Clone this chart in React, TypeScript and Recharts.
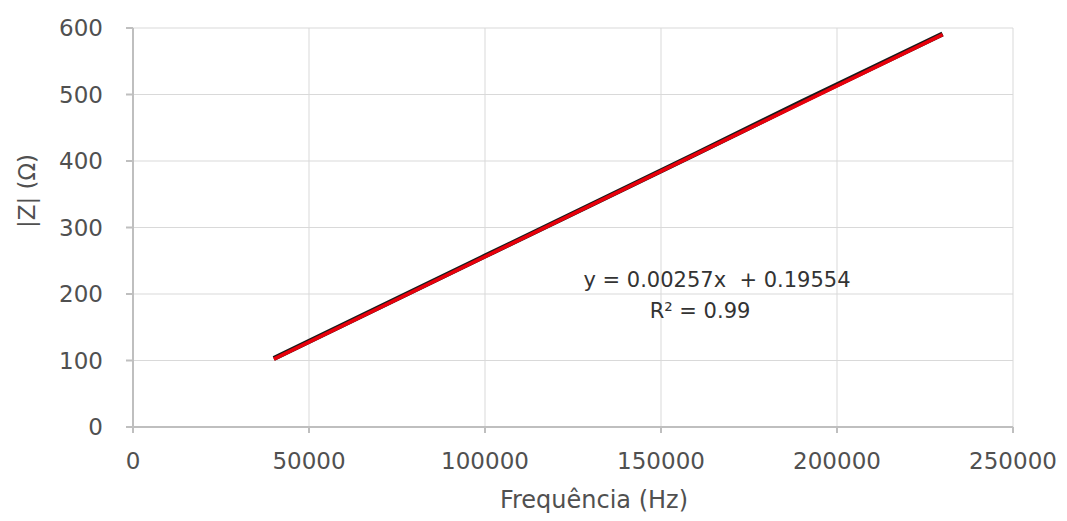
import { LineChart, Line, XAxis, YAxis, CartesianGrid } from "recharts"

const frequencies = [40000, 70000, 100000, 130000, 160000, 190000, 230000]
const impedance = [103, 180, 257, 334, 411, 489, 591]
const trendFrequencies = [40000, 230000]
const trendImpedance = [102, 590]
const xTicks = [0, 50000, 100000, 150000, 200000, 250000]
const yTicks = [0, 100, 200, 300, 400, 500, 600]

const measured = frequencies.map((f, i) => ({ f, z: impedance[i] }))
const trend = trendFrequencies.map((f, i) => ({ f, z: trendImpedance[i] }))

const axisColor = "#bfbfbf"
const textColor = "#505050"
const font = "'DejaVu Sans', sans-serif"

export default function App() {
  return (
    <div style={{ position: "absolute", left: 0, top: 0, width: 1067, height: 521, background: "#fff" }}>
      <LineChart width={1067} height={521} margin={{ top: 28, right: 54, bottom: 0, left: 0 }}>
        <CartesianGrid stroke="#d9d9d9" strokeWidth={1} />
        <XAxis
          type="number"
          dataKey="f"
          domain={[0, 250000]}
          ticks={xTicks}
          height={94}
          stroke={axisColor}
          strokeWidth={2}
          tickSize={6}
          tickMargin={20}
          tick={{ fill: textColor, fontSize: 23, fontFamily: font }}
          allowDuplicatedCategory={false}
        />
        <YAxis
          type="number"
          dataKey="z"
          domain={[0, 600]}
          ticks={yTicks}
          width={133}
          stroke={axisColor}
          strokeWidth={2}
          tickSize={7}
          tickMargin={23}
          tick={{ fill: textColor, fontSize: 23, fontFamily: font }}
        />
        <Line
          data={measured}
          dataKey="z"
          stroke="#1a1a1a"
          strokeWidth={5}
          dot={false}
          isAnimationActive={false}
        />
        <Line
          data={trend}
          dataKey="z"
          stroke="#e8000b"
          strokeWidth={3.5}
          dot={false}
          isAnimationActive={false}
        />
      </LineChart>
      <div
        style={{
          position: "absolute",
          left: 594,
          top: 500,
          transform: "translate(-50%, -50%)",
          fontFamily: font,
          fontSize: 24,
          color: textColor,
          whiteSpace: "nowrap",
        }}
      >
        Frequência (Hz)
      </div>
      <div
        style={{
          position: "absolute",
          left: 27,
          top: 191,
          transform: "translate(-50%, -50%) rotate(-90deg)",
          fontFamily: font,
          fontSize: 23,
          color: textColor,
          whiteSpace: "nowrap",
        }}
      >
        |Z| (Ω)
      </div>
      <div
        style={{
          position: "absolute",
          left: 717,
          top: 280,
          transform: "translate(-50%, -50%)",
          fontFamily: font,
          fontSize: 21,
          color: "#333333",
          whiteSpace: "pre",
        }}
      >
        {"y = 0.00257x  + 0.19554"}
      </div>
      <div
        style={{
          position: "absolute",
          left: 700,
          top: 311,
          transform: "translate(-50%, -50%)",
          fontFamily: font,
          fontSize: 21,
          color: "#333333",
          whiteSpace: "nowrap",
        }}
      >
        R² = 0.99
      </div>
    </div>
  )
}
